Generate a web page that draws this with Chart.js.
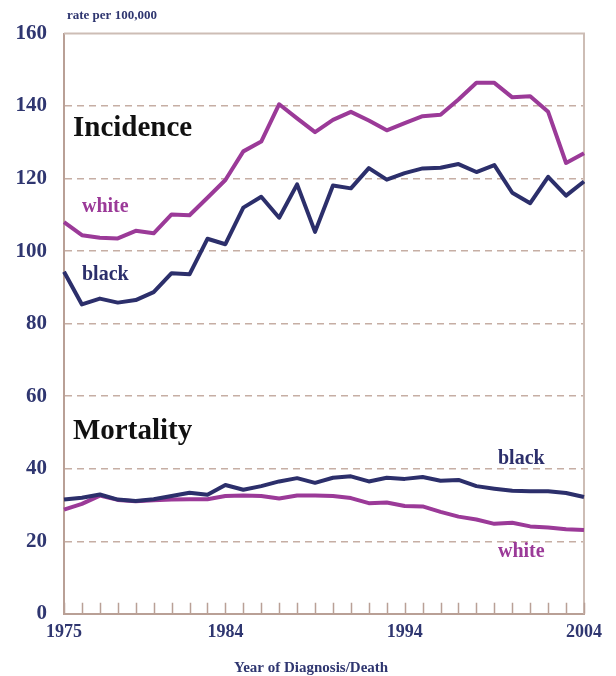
<!DOCTYPE html>
<html>
<head>
<meta charset="utf-8">
<script src="https://cdn.jsdelivr.net/npm/chart.js@4.4.1/dist/chart.umd.min.js"></script>
<style>
  html, body { margin: 0; padding: 0; background: #fff; }
  #wrap { width: 616px; height: 676px; position: relative; }
</style>
</head>
<body>
<div id="wrap"><canvas id="chart"></canvas></div>
<script>
const years = [1975, 1976, 1977, 1978, 1979, 1980, 1981, 1982, 1983, 1984,
  1985, 1986, 1987, 1988, 1989, 1990, 1991, 1992, 1993, 1994,
  1995, 1996, 1997, 1998, 1999, 2000, 2001, 2002, 2003, 2004];
const yearLabels = [1975, 1984, 1994, 2004];
const yTicks = [0, 20, 40, 60, 80, 100, 120, 140, 160];

const incidenceWhite = [108.0, 104.4, 103.7, 103.5, 105.6, 104.9, 110.1, 109.9, 114.7, 119.6,
  127.5, 130.2, 140.5, 136.6, 132.8, 136.2, 138.4, 136.0, 133.3, 135.3,
  137.2, 137.6, 141.8, 146.4, 146.4, 142.4, 142.7, 138.4, 124.3, 127.0];
const incidenceBlack = [94.3, 85.3, 86.9, 85.8, 86.5, 88.7, 93.9, 93.6, 103.4, 101.9,
  112.0, 115.0, 109.2, 118.4, 105.3, 118.1, 117.3, 122.9, 119.7, 121.5,
  122.8, 123.0, 124.0, 121.8, 123.7, 116.1, 113.2, 120.5, 115.3, 119.2];
const mortalityWhite = [28.7, 30.3, 32.6, 31.4, 31.0, 31.3, 31.5, 31.6, 31.6, 32.5,
  32.6, 32.5, 31.8, 32.6, 32.6, 32.5, 31.9, 30.5, 30.7, 29.7,
  29.6, 28.1, 26.8, 26.0, 24.8, 25.1, 24.1, 23.8, 23.3, 23.1];
const mortalityBlack = [31.5, 32.0, 32.9, 31.5, 31.1, 31.6, 32.5, 33.4, 32.8, 35.5,
  34.2, 35.2, 36.5, 37.4, 36.1, 37.5, 37.9, 36.5, 37.5, 37.2,
  37.7, 36.7, 36.9, 35.2, 34.5, 33.9, 33.8, 33.8, 33.3, 32.2];

const WHITE = '#9b3a98';
const BLACK = '#2c2f6b';
const NAVY = '#2f3670';
const AXIS = '#b9a096';
const FRAME = '#cdbdb5';
const GRID = '#c6aea4';
const SERIF = "'Liberation Serif', 'Times New Roman', serif";

// text annotations (pixel positions on the canvas)
const notes = [
  { text: 'rate per 100,000', x: 67, y: 16, size: 13, color: NAVY },
  { text: 'Incidence', x: 73, y: 129, size: 29, color: '#111111' },
  { text: 'white', x: 82, y: 207, size: 20, color: WHITE },
  { text: 'black', x: 82, y: 275, size: 20, color: BLACK },
  { text: 'Mortality', x: 73, y: 432, size: 29, color: '#111111' },
  { text: 'black', x: 498, y: 459, size: 20, color: BLACK },
  { text: 'white', x: 498, y: 552, size: 20, color: WHITE },
  { text: 'Year of Diagnosis/Death', x: 234, y: 668, size: 15, color: NAVY }
];

const decor = {
  id: 'decor',
  beforeDatasetsDraw(chart) {
    const { ctx, chartArea: a, scales: { x } } = chart;
    ctx.save();
    // top and right frame
    ctx.strokeStyle = FRAME;
    ctx.lineWidth = 2;
    ctx.beginPath();
    ctx.moveTo(a.left, a.top);
    ctx.lineTo(a.right, a.top);
    ctx.lineTo(a.right, a.bottom);
    ctx.stroke();
    // small year ticks pointing up from the axis
    ctx.strokeStyle = AXIS;
    ctx.lineWidth = 1.5;
    ctx.beginPath();
    years.forEach((yr, i) => {
      const px = Math.round(x.getPixelForValue(i)) + 0.5;
      ctx.moveTo(px, a.bottom);
      ctx.lineTo(px, a.bottom - 11);
    });
    ctx.stroke();
    ctx.restore();
  },
  afterDraw(chart) {
    const { ctx } = chart;
    ctx.save();
    ctx.textBaseline = 'middle';
    ctx.textAlign = 'left';
    notes.forEach(n => {
      ctx.font = `bold ${n.size}px ${SERIF}`;
      ctx.fillStyle = n.color;
      ctx.fillText(n.text, n.x, n.y);
    });
    ctx.restore();
  }
};

const line = (data, color, order) => ({
  data, borderColor: color, borderWidth: 4, pointRadius: 0,
  tension: 0, fill: false, borderJoinStyle: 'round', order
});

new Chart(document.getElementById('chart').getContext('2d'), {
  type: 'line',
  data: {
    labels: years,
    datasets: [
      line(incidenceWhite, WHITE, 1),
      line(incidenceBlack, BLACK, 0),
      line(mortalityWhite, WHITE, 1),
      line(mortalityBlack, BLACK, 0)
    ]
  },
  plugins: [decor],
  options: {
    responsive: true,
    maintainAspectRatio: false,
    animation: false,
    layout: { padding: { top: 33.5, right: 32, left: 0, bottom: 0 } },
    plugins: { legend: { display: false }, tooltip: { enabled: false } },
    scales: {
      x: {
        type: 'category',
        offset: false,
        grid: { display: true, drawOnChartArea: false, drawTicks: false },
        border: { display: true, color: AXIS, width: 2 },
        ticks: {
          autoSkip: false, maxRotation: 0, padding: 8,
          color: NAVY, font: { family: SERIF, size: 18, weight: 'bold' },
          callback: (v, i) => yearLabels.includes(years[i]) ? String(years[i]) : ''
        },
        afterFit: s => { s.height = 62.2; }
      },
      y: {
        min: 0, max: 160,
        afterBuildTicks: s => { s.ticks = yTicks.map(v => ({ value: v })); },
        grid: {
          drawTicks: false,
          color: c => (c.tick.value === 0 || c.tick.value === 160) ? 'rgba(0,0,0,0)' : GRID,
          lineWidth: 1.5
        },
        border: { display: true, color: AXIS, width: 2, dash: [7, 5], dashOffset: 0 },
        ticks: {
          padding: 17, color: NAVY,
          font: { family: SERIF, size: 21, weight: 'bold' }
        },
        afterFit: s => { s.width = 64; }
      }
    }
  }
});
</script>
</body>
</html>
